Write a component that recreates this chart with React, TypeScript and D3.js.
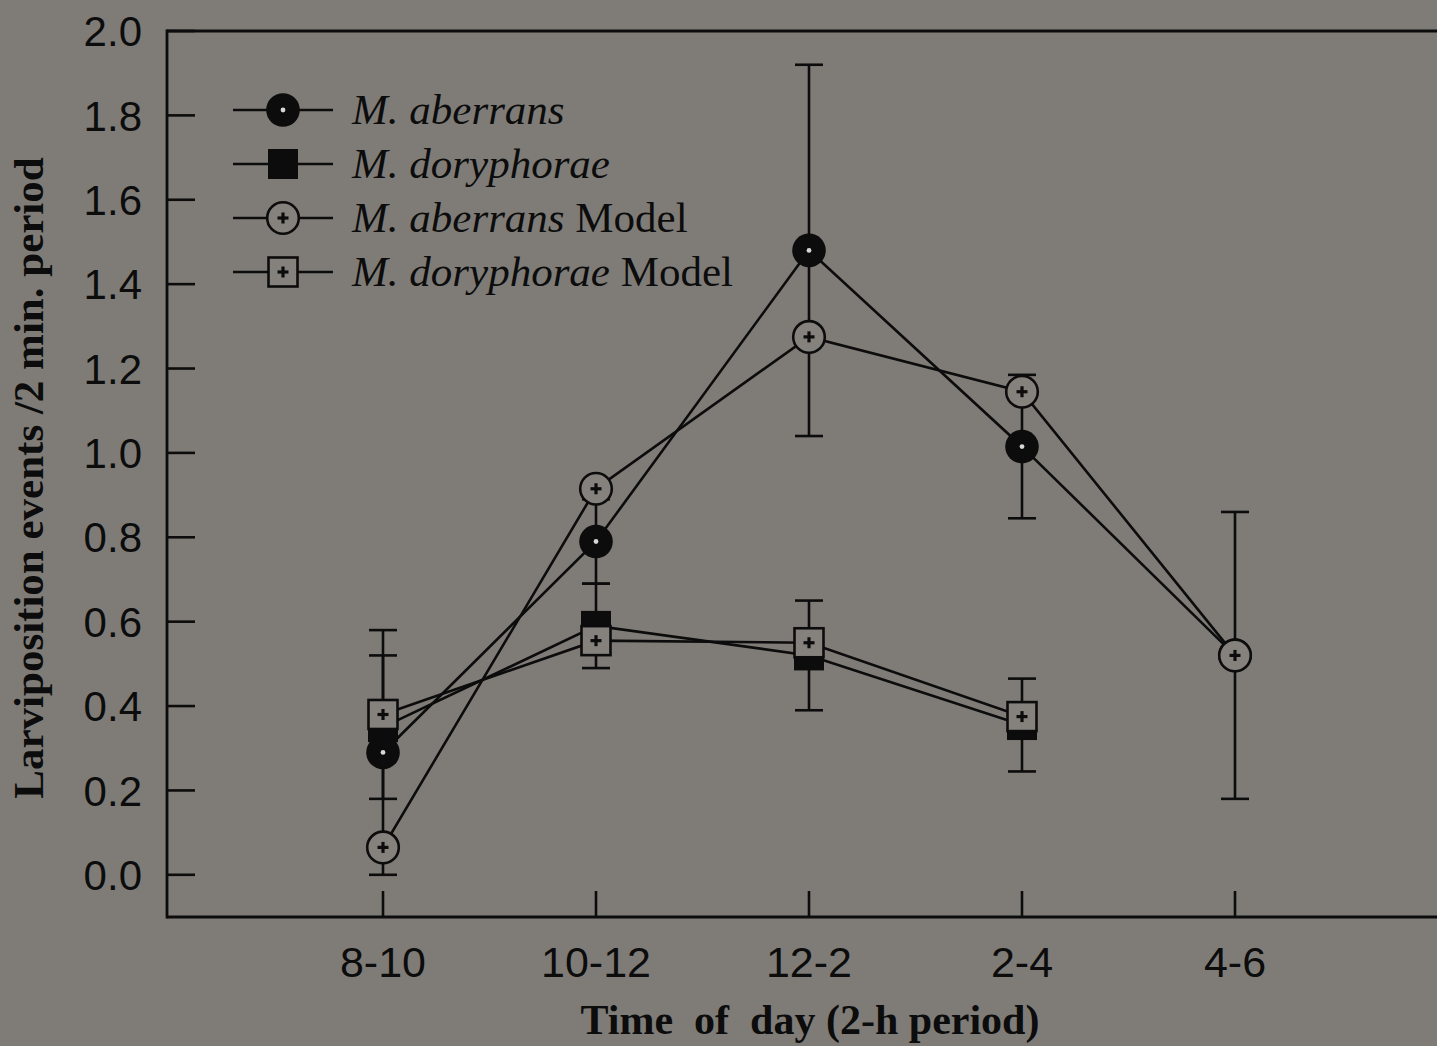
import React from 'react';
import * as d3 from 'd3';

// time-of-day categories and values
const categories = ['8-10', '10-12', '12-2', '2-4', '4-6'];
const aberrans = [0.29, 0.79, 1.48, 1.015, 0.52];
const aberransSE = [0.29, 0.10, 0.44, 0.17, 0.34];
const doryphorae = [0.35, 0.59, 0.52, 0.355];
const doryphoraeSE = [0.17, 0.10, 0.13, 0.11];
const aberransModel = [0.065, 0.915, 1.275, 1.145, 0.52];
const doryphoraeModel = [0.38, 0.555, 0.55, 0.375];
const yTicks = [0, 0.2, 0.4, 0.6, 0.8, 1.0, 1.2, 1.4, 1.6, 1.8, 2.0];

const W = 1437;
const H = 1046;
const BG = '#7f7c78';
const INK = '#0c0c0c';
const sans = '"Liberation Sans", Arial, sans-serif';
const serif = '"Liberation Serif", "Times New Roman", serif';

const left = 167;
const top = 31;
const bottom = 917;

const x = d3.scalePoint<string>().domain(categories).range([383, 1235]);
const y = d3.scaleLinear().domain([-0.1, 2.0]).range([bottom, top]);

type Kind = 'filledCircle' | 'filledSquare' | 'openCircle' | 'openSquare';

const Marker = ({ cx, cy, kind }: { cx: number; cy: number; kind: Kind }) => {
    if (kind === 'filledCircle') {
        return (
            <g>
                <circle cx={cx} cy={cy} r={16.8} fill={INK} />
                <circle cx={cx} cy={cy} r={2.4} fill="#d8d6d2" />
            </g>
        );
    }
    if (kind === 'filledSquare') {
        return <rect x={cx - 15} y={cy - 15} width={30} height={30} fill={INK} />;
    }
    const plus = (
        <g stroke={INK} strokeWidth={3.2}>
            <line x1={cx - 5.5} x2={cx + 5.5} y1={cy} y2={cy} />
            <line x1={cx} x2={cx} y1={cy - 5.5} y2={cy + 5.5} />
        </g>
    );
    if (kind === 'openCircle') {
        return (
            <g>
                <circle cx={cx} cy={cy} r={15.8} fill="#85827e" stroke={INK} strokeWidth={2.6} />
                {plus}
            </g>
        );
    }
    return (
        <g>
            <rect x={cx - 14.5} y={cy - 14.5} width={29} height={29} fill="#85827e" stroke={INK} strokeWidth={2.6} />
            {plus}
        </g>
    );
};

const line = d3.line<number>()
    .x((_, i) => x(categories[i]) as number)
    .y(d => y(d));

const series: { name: string; model: boolean; values: number[]; kind: Kind }[] = [
    { name: 'M. aberrans', model: false, values: aberrans, kind: 'filledCircle' },
    { name: 'M. doryphorae', model: false, values: doryphorae, kind: 'filledSquare' },
    { name: 'M. aberrans', model: true, values: aberransModel, kind: 'openCircle' },
    { name: 'M. doryphorae', model: true, values: doryphoraeModel, kind: 'openSquare' },
];

const ErrorBars = ({ values, se }: { values: number[]; se: number[] }) => (
    <g stroke={INK} strokeWidth={2.6}>
        {values.map((v, i) => {
            const cx = x(categories[i]) as number;
            const hi = y(v + se[i]);
            const lo = y(v - se[i]);
            return (
                <g key={i}>
                    <line x1={cx} x2={cx} y1={hi} y2={lo} />
                    <line x1={cx - 14} x2={cx + 14} y1={hi} y2={hi} />
                    <line x1={cx - 14} x2={cx + 14} y1={lo} y2={lo} />
                </g>
            );
        })}
    </g>
);

const App = () => {
    const legendY = [110, 164, 218, 272];
    return (
        <svg width={W} height={H} style={{ position: 'absolute', left: 0, top: 0 }}>
            <rect width={W} height={H} fill={BG} />

            {/* frame: top, left and bottom */}
            <g stroke={INK} strokeWidth={2.8} fill="none">
                <line x1={left} x2={W} y1={top} y2={top} />
                <line x1={left} x2={left} y1={top - 1.4} y2={bottom + 1.4} />
                <line x1={left} x2={W} y1={bottom} y2={bottom} />
            </g>

            {/* y ticks and labels */}
            {yTicks.map(t => (
                <g key={t}>
                    <line x1={left} x2={left + 28} y1={y(t)} y2={y(t)} stroke={INK} strokeWidth={2.6} />
                    <text x={142} y={y(t)} dy="0.36em" textAnchor="end" fontFamily={sans} fontSize={42} fill={INK}>
                        {t.toFixed(1)}
                    </text>
                </g>
            ))}

            {/* x ticks and labels */}
            {categories.map(c => (
                <g key={c}>
                    <line x1={x(c)} x2={x(c)} y1={bottom} y2={bottom - 26} stroke={INK} strokeWidth={2.6} />
                    <text x={x(c)} y={977} textAnchor="middle" fontFamily={sans} fontSize={43} fill={INK}>
                        {c}
                    </text>
                </g>
            ))}

            {/* axis titles */}
            <text x={810} y={1034} textAnchor="middle" fontFamily={serif} fontWeight="bold" fontSize={42}
                fill={INK} style={{ whiteSpace: 'pre' }}>
                {'Time  of  day (2-h period)'}
            </text>
            <text transform="translate(43,478) rotate(-90)" textAnchor="middle" fontFamily={serif}
                fontWeight="bold" fontSize={43} fill={INK}>
                Larviposition events /2 min. period
            </text>

            {/* error bars for the observed series */}
            <ErrorBars values={aberrans} se={aberransSE} />
            <ErrorBars values={doryphorae} se={doryphoraeSE} />

            {/* connecting lines */}
            {series.map((s, i) => (
                <path key={i} d={line(s.values) || ''} fill="none" stroke={INK} strokeWidth={2.6} />
            ))}

            {/* markers */}
            {series.map((s, i) => (
                <g key={i}>
                    {s.values.map((v, j) => (
                        <Marker key={j} cx={x(categories[j]) as number} cy={y(v)} kind={s.kind} />
                    ))}
                </g>
            ))}

            {/* legend */}
            {series.map((s, i) => (
                <g key={i}>
                    <line x1={233} x2={333} y1={legendY[i]} y2={legendY[i]} stroke={INK} strokeWidth={2.6} />
                    <Marker cx={283} cy={legendY[i]} kind={s.kind} />
                    <text x={352} y={legendY[i]} dy="0.33em" fontFamily={serif} fontSize={43} fill={INK}
                        style={{ whiteSpace: 'pre' }}>
                        <tspan fontStyle="italic">{s.name}</tspan>
                        {s.model ? <tspan>{' Model'}</tspan> : null}
                    </text>
                </g>
            ))}
        </svg>
    );
};

export default App;
